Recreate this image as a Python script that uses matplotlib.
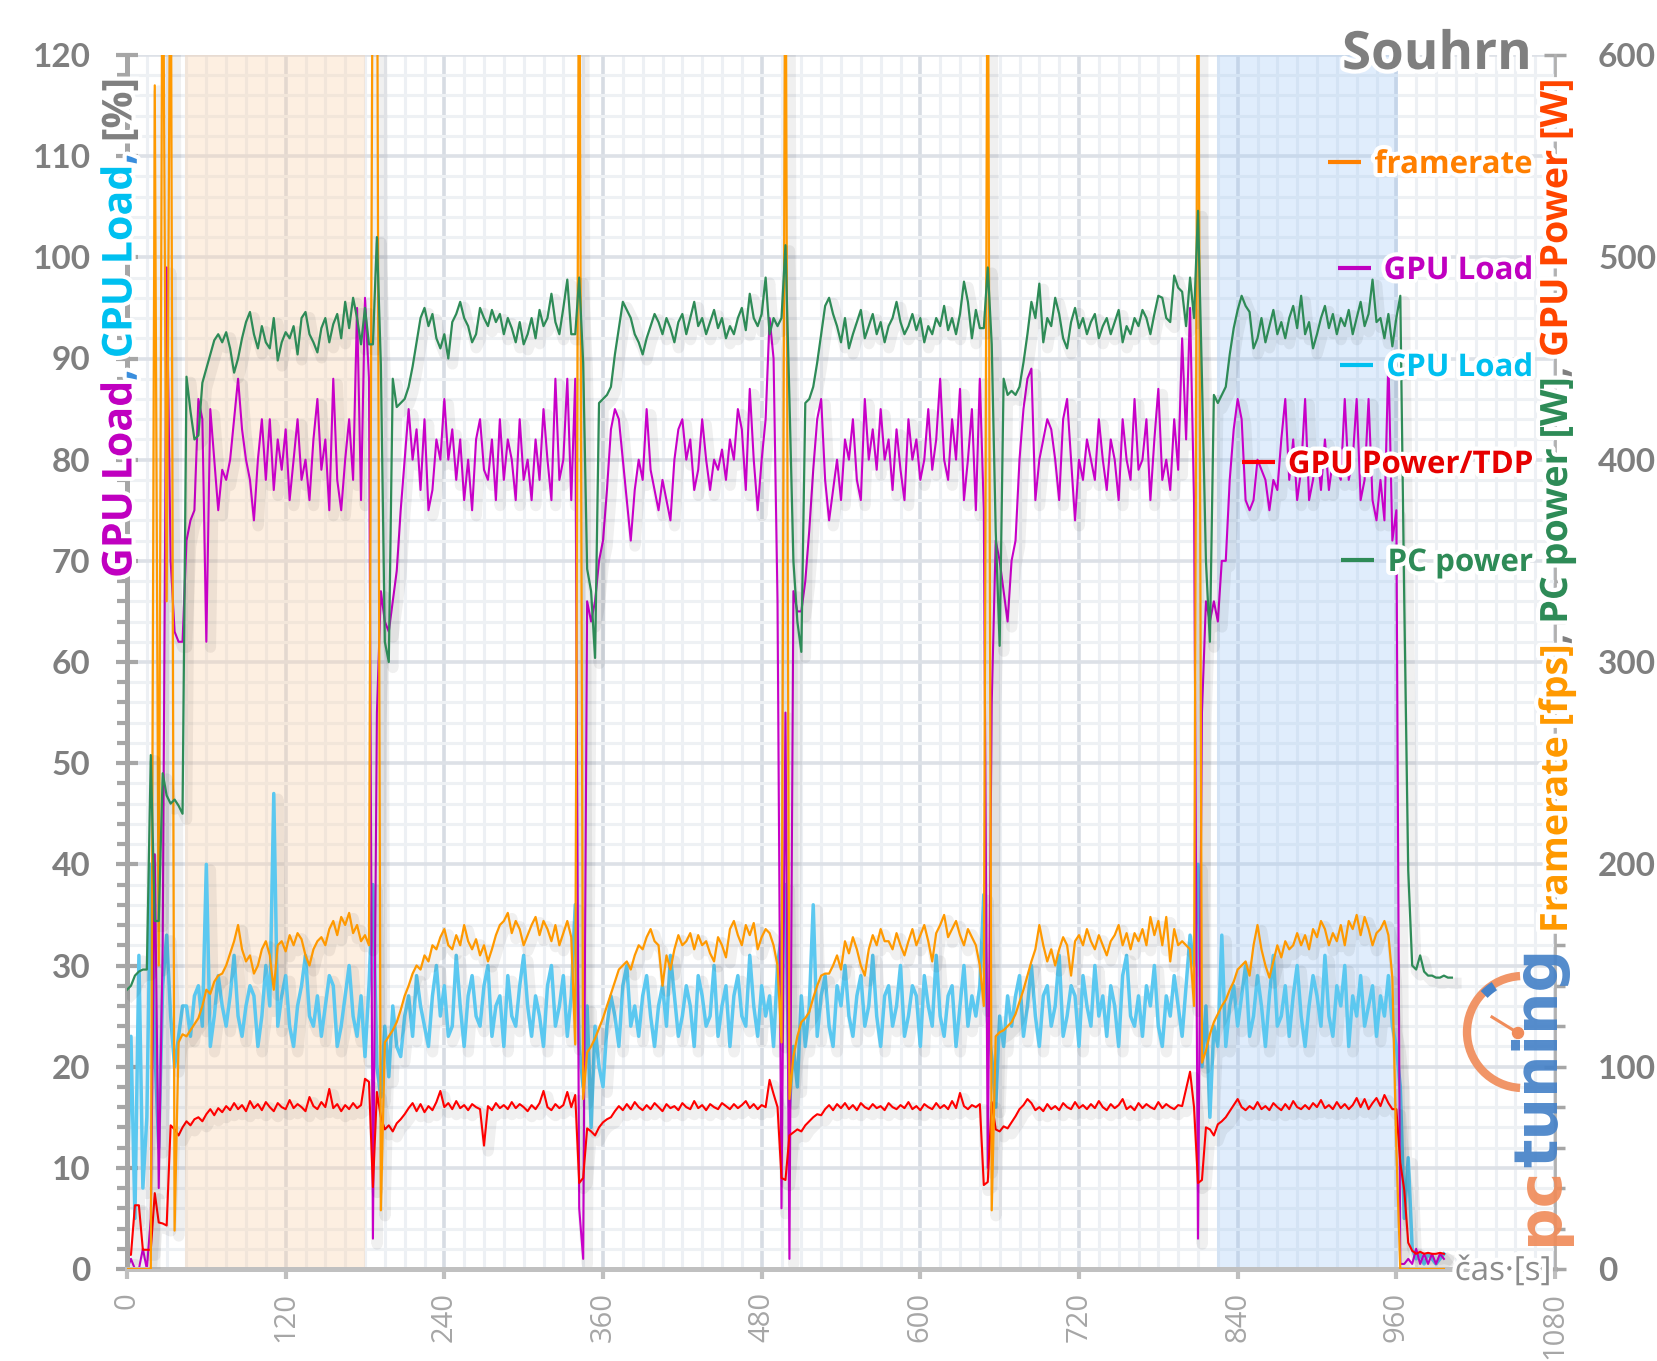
import numpy as np
import matplotlib
matplotlib.use("Agg")
import matplotlib.pyplot as plt
import matplotlib.patheffects as pe
from matplotlib.patches import Arc, Circle
from matplotlib.ticker import MultipleLocator

nan = np.nan
STEP = 3  # one sample every 3 s

# framerate [fps] (right axis)
framerate = [
    0, 0, 0, 0, 0, 0, 0, 585, 150, 700, 330, 700, 19, 112, 116,
    115, 118, 121, 124, 130, 138, 136, 142, 145, 146, 150, 156, 162, 170, 158, 152, 155, 146, 150, 158,
    162, 155, 138, 160, 162, 157, 165, 160, 166, 163, 155, 150, 158, 162, 164, 160, 168, 172, 165, 174,
    170, 176, 166, 170, 162, 165, 160,
    700, 700, 29, 112, 115, 118, 122,
    128, 135, 140, 146, 150, 148, 155, 152, 160, 158, 164, 168, 160, 158, 165, 160, 170, 162, 158, 163,
    155, 160, 152, 158, 165, 170, 172, 176, 166, 172, 168, 160, 165, 170, 174, 165, 172, 168, 162, 170,
    160, 166, 172, 164,
    111, 700, 84, 107, 110, 114, 119,
    124, 130, 136, 142, 148, 150, 152, 148, 155, 160, 158, 164, 168, 162, 160, 140, 155, 148, 158, 165,
    160, 162, 166, 158, 165, 160, 162, 156, 152, 164, 160, 154, 168, 172, 165, 160, 170, 165, 171, 158,
    164, 168, 166, 160, 150,
    112, 700, 84, 105, 115, 122, 124,
    127, 134, 140, 145, 146, 146, 150, 155, 148, 162, 156, 164, 158, 150, 145, 158, 165, 160, 168, 162,
    162, 158, 166, 160, 155, 162, 168, 160, 165, 170, 162, 152, 166, 170, 175, 164, 168, 172, 165, 160,
    168, 164, 160, 150,
    130, 700, 29, 115, 117, 118, 120,
    122, 126, 132, 138, 145, 152, 158, 170, 160, 152, 158, 150, 158, 164, 160, 145, 162, 165, 160, 168,
    162, 158, 165, 160, 155, 162, 165, 170, 160, 166, 158, 166, 162, 168, 160, 174, 165, 172, 160, 174,
    152, 168, 160, 162, 160, 158, 130,
    700, 102, 108, 116, 122, 126,
    130, 133, 138, 142, 148, 150, 152, 145, 160, 170, 158, 150, 144, 152, 160, 154, 162, 158, 160, 166,
    160, 165, 158, 168, 164, 172, 168, 160, 166, 162, 170, 160, 172, 168, 175, 165, 174, 168, 160, 166,
    168, 172, 165, 144,
    60, 0, 0, 0, 0, 0, 0, 0, 0, 0, 0, 0, 0, nan, nan,
]

# GPU load [%]
gpu_load = [
    0, 1, 0, 0, 2, 0, 5, 41, 8, 32, 99, 70, 63, 62, 62,
    72, 74, 75, 86, 84, 62, 85, 80, 75, 79, 78, 80, 84, 88, 83, 80, 78, 74, 80, 84,
    78, 84, 77, 82, 79, 83, 76, 80, 84, 78, 80, 76, 82, 86, 79, 82, 75, 88, 78, 75,
    80, 84, 78, 95, 76, 96, 88,
    3, 55, 67, 64, 63, 66, 69,
    75, 80, 85, 80, 83, 77, 84, 75, 77, 82, 80, 86, 80, 83, 78, 82, 76, 80, 75, 82,
    84, 79, 78, 82, 76, 84, 78, 82, 80, 76, 84, 78, 80, 76, 82, 78, 85, 80, 76, 88,
    78, 80, 88, 76,
    88, 6, 1, 66, 64, 66, 70,
    72, 77, 83, 85, 84, 80, 76, 72, 77, 80, 78, 85, 79, 77, 75, 78, 76, 74, 80, 83,
    84, 80, 82, 77, 79, 84, 80, 77, 80, 79, 81, 78, 82, 80, 85, 83, 77, 87, 80, 75,
    80, 84, 94, 90, 66,
    6, 55, 1, 67, 65, 65, 68,
    73, 79, 84, 86, 78, 74, 77, 80, 76, 82, 80, 84, 78, 76, 86, 80, 83, 79, 85, 80,
    82, 77, 83, 79, 76, 84, 80, 82, 78, 80, 85, 79, 82, 88, 80, 78, 84, 80, 87, 76,
    80, 85, 75, 88,
    75, 10, 56, 72, 70, 67, 64,
    70, 72, 80, 85, 88, 89, 76, 80, 82, 84, 83, 80, 76, 84, 86, 80, 74, 80, 78, 82,
    80, 78, 84, 80, 77, 82, 80, 76, 84, 80, 78, 86, 79, 80, 84, 76, 82, 87, 78, 80,
    77, 84, 79, 92, 82, 95, 76,
    3, 55, 66, 64, 66, 64,
    70, 70, 78, 83, 86, 84, 76, 75, 76, 80, 79, 78, 75, 78, 77, 82, 86, 78, 82, 76,
    79, 86, 76, 78, 81, 77, 82, 77, 80, 79, 78, 86, 78, 80, 86, 76, 78, 86, 76, 74,
    78, 74, 90, 72,
    75, 0.5, 0.5, 1, 0.5, 2, 0.5, 1.5, 0.5, 1.5, 0.5, 1.5, 1, nan, nan,
]

# CPU load [%]
cpu_load = [
    7, 23, 5, 31, 8, 15, 40, 22, 12, 28, 33, 25, 20, 23, 26,
    26, 23, 27, 28, 24, 40, 22, 25, 29, 26, 24, 27, 31, 25, 23, 26, 28, 27, 22, 25,
    30, 26, 47, 24, 27, 29, 24, 22, 26, 28, 31, 25, 24, 27, 23, 26, 29, 28, 22, 24,
    27, 30, 25, 23, 27, 21, 28,
    38, 20, 17, 24, 19, 26, 22,
    21, 25, 27, 23, 29, 26, 24, 22, 27, 30, 25, 28, 23, 24, 31, 26, 22, 27, 29, 25,
    24, 28, 30, 23, 26, 27, 22, 29, 25, 24, 28, 31, 26, 23, 27, 25, 22, 28, 30, 24,
    26, 29, 23, 27,
    36, 22, 18, 26, 14, 24, 20,
    18, 24, 27, 25, 22, 28, 30, 24, 26, 23, 27, 29, 25, 22, 26, 28, 24, 31, 27, 23,
    25, 28, 26, 22, 29, 27, 24, 25, 30, 23, 26, 28, 22, 27, 29, 25, 24, 31, 26, 23,
    28, 25, 27, 22, 30,
    33, 38, 16, 22, 18, 27, 22,
    26, 36, 23, 27, 29, 24, 22, 28, 26, 30, 25, 23, 27, 29, 24, 26, 31, 25, 22, 27,
    28, 24, 26, 30, 23, 25, 28, 27, 22, 29, 26, 24, 31, 25, 23, 27, 28, 22, 26, 30,
    24, 27, 25, 28,
    37, 24, 21, 16, 25, 22, 27,
    24, 27, 29, 23, 26, 30, 25, 22, 27, 28, 24, 26, 31, 23, 25, 28, 27, 22, 29, 26,
    24, 30, 25, 27, 23, 28, 26, 22, 29, 31, 25, 24, 27, 23, 28, 26, 30, 24, 22, 27,
    25, 29, 26, 23, 28, 33, 30,
    40, 20, 26, 15, 24, 22,
    33, 22, 26, 28, 24, 27, 30, 23, 25, 29, 26, 22, 27, 31, 24, 25, 28, 23, 27, 30,
    25, 22, 26, 29, 27, 24, 31, 25, 23, 28, 26, 30, 22, 27, 25, 29, 24, 26, 28, 23,
    27, 25, 29, 24,
    22, 18, 5, 11, 2, 1, 1.5, 0.5, 1.5, 1, 0.5, 1, 1.5, nan, nan,
]

# GPU power / TDP [%]
gpu_power = [
    1.4, 1.4, 6.3, 6.3, 1.9, 1.9, 1.9, 7.5, 4.6, 4.5, 4.3, 14.2, 13.8, 13.2, 14.0,
    14.6, 14.2, 14.8, 15.0, 14.6, 15.3, 15.8, 15.2, 15.9, 15.5, 16.1, 15.7, 16.4, 15.8, 16.2, 15.6, 16.6, 15.9, 16.3, 15.7,
    16.5, 16.0, 15.6, 16.4, 16.0, 15.8, 16.7, 15.9, 16.3, 16.0, 15.6, 17.0, 16.1, 15.8, 16.5, 16.0, 17.8, 15.9, 16.3, 15.6,
    16.2, 15.8, 16.4, 15.9, 16.2, 18.8, 18.5,
    8.1, 17.5, 15.0, 13.8, 14.2, 13.6, 14.4,
    14.8, 15.3, 15.9, 16.4, 15.6, 16.3, 15.5, 16.1, 15.7, 16.5, 17.6, 16.0, 16.4, 15.8, 16.6, 15.9, 16.2, 15.7, 16.3, 16.0,
    15.8, 12.2, 16.1, 15.7, 16.4, 15.9, 16.2, 15.8, 16.5, 15.9, 16.3, 16.0, 15.6, 16.2, 15.8, 16.4, 17.6, 16.0, 15.7, 16.3,
    15.9, 16.2, 17.5, 16.0,
    17.2, 8.5, 9.0, 13.9, 13.6, 13.2, 14.0,
    14.5, 14.8, 15.0, 15.6, 16.1, 15.7, 16.3, 15.8, 16.5, 16.0, 15.7, 16.2, 15.8, 16.4, 16.0, 15.6, 16.3, 15.9, 16.1, 15.7,
    16.4, 16.0, 15.8, 16.6, 15.9, 16.2, 15.7, 16.3, 16.0, 15.8, 16.4, 16.1, 15.8, 16.3, 15.9, 16.2, 16.6, 15.9, 16.3, 15.8,
    16.2, 16.0, 18.7, 17.3, 16.0,
    9.0, 8.8, 13.2, 13.5, 13.8, 13.6, 14.2,
    14.6, 15.0, 15.3, 15.2, 15.8, 16.2, 15.7, 16.3, 15.9, 16.4, 15.8, 16.2, 15.7, 16.4, 16.0, 15.8, 16.3, 15.9, 16.1, 15.7,
    16.4, 16.0, 15.8, 16.2, 15.9, 16.5, 15.8, 16.1, 15.7, 16.3, 16.0, 15.8, 16.4, 15.9, 16.2, 15.8, 16.6, 15.9, 17.4, 16.1,
    15.8, 16.2, 16.0, 16.3,
    8.3, 8.6, 16.5, 13.8, 13.6, 14.1, 13.9,
    14.5, 15.1, 15.8, 16.2, 16.8, 16.4, 15.7, 16.0, 15.6, 16.3, 15.8, 16.1, 15.7, 16.4, 16.0, 15.8, 16.5, 15.9, 16.2, 15.8,
    16.3, 15.9, 16.6, 16.0, 15.7, 16.3, 15.9, 16.2, 16.8, 15.8, 16.1, 15.7, 16.4, 15.9, 16.3, 16.0, 15.8, 16.5, 15.9, 16.3,
    16.0, 15.8, 16.2, 16.1, 17.8, 19.5, 16.0,
    8.5, 8.8, 14.0, 13.8, 13.2, 14.3,
    14.6, 15.0, 15.6, 16.2, 16.8, 16.0, 15.7, 16.1, 15.8, 16.5, 15.8, 16.1, 15.7, 16.4, 16.0, 15.7, 16.3, 15.8, 16.6, 16.0,
    15.8, 16.2, 15.8, 16.4, 16.0, 16.7, 15.9, 16.2, 15.8, 16.5, 15.9, 16.3, 15.8, 16.2, 16.9, 16.0, 16.8, 15.8, 16.4, 16.9,
    16.1, 17.2, 16.4, 15.8,
    15.8, 10.5, 7.8, 2.6, 1.8, 1.5, 1.7, 1.5, 1.6, 1.5, 1.5, 1.6, 1.5, nan, nan,
]

# PC power [W] (right axis)
pc_power = [
    138, 140, 145, 147, 148, 148, 254, 172, 172, 245, 234, 230, 232, 229, 225,
    441, 424, 410, 412, 438, 445, 452, 459, 462, 458, 463, 455, 443, 450, 460, 468, 473, 462, 455, 466,
    458, 455, 470, 449, 458, 463, 460, 466, 452, 470, 473, 462, 458, 453, 465, 470, 458, 467, 472, 460,
    478, 465, 480, 470, 457, 475, 457,
    457, 510, 447, 310, 300, 440, 426,
    428, 430, 436, 446, 458, 470, 475, 466, 472, 460, 455, 462, 450, 468, 472, 478, 470, 466, 458, 462,
    475, 470, 466, 474, 468, 472, 462, 470, 465, 458, 468, 457, 462, 470, 460, 474, 466, 470, 482, 468,
    462, 475, 489, 462,
    462, 490, 448, 346, 335, 302, 428,
    430, 432, 436, 452, 465, 478, 474, 470, 462, 458, 452, 460, 466, 472, 468, 462, 470, 465, 458, 468,
    472, 462, 470, 478, 466, 470, 462, 468, 474, 465, 470, 460, 466, 462, 470, 475, 464, 482, 470, 466,
    472, 490, 462, 470, 466,
    470, 506, 430, 350, 320, 305, 428,
    430, 436, 448, 462, 476, 480, 472, 466, 458, 470, 455, 462, 468, 474, 460, 466, 472, 462, 468, 458,
    466, 470, 478, 468, 462, 466, 472, 464, 470, 458, 466, 462, 470, 466, 476, 464, 470, 462, 472, 488,
    478, 460, 474, 465,
    465, 495, 457, 365, 308, 440, 432,
    434, 432, 436, 448, 462, 478, 470, 487, 458, 470, 466, 480, 472, 460, 455, 468, 475, 465, 470, 462,
    468, 472, 460, 466, 470, 462, 468, 474, 458, 466, 462, 470, 466, 474, 470, 462, 472, 481, 480, 470,
    468, 491, 485, 483, 466, 490, 470,
    523, 440, 350, 310, 432, 428,
    432, 436, 452, 465, 474, 481, 476, 473, 455, 460, 470, 458, 466, 474, 462, 468, 460, 470, 476, 465,
    481, 462, 468, 455, 462, 470, 476, 465, 472, 462, 470, 466, 474, 462, 470, 478, 466, 472, 489, 468,
    470, 460, 472, 456,
    470, 481, 330, 197, 150, 148, 155, 147, 145, 145, 144, 144, 145, 144, 144,
]

orange_span = (44, 180)
blue_span = (824, 961)
x_ticks = [0, 120, 240, 360, 480, 600, 720, 840, 960, 1080]

W, H = 1658, 1361
fig = plt.figure(figsize=(W / 100, H / 100), dpi=100)
ax = fig.add_axes([127 / W, 1 - 1269 / H, (1555 - 127) / W, (1269 - 55) / H])
ax2 = ax.twinx()


def tt(v):
    return np.arange(len(v)) * STEP


shadow = [pe.SimpleLineShadow(offset=(3, -4), shadow_color='k', alpha=0.06, linewidth=8), pe.Normal()]

ax.axvspan(*orange_span, color='#FAD3AE', alpha=0.36, lw=0, zorder=0.8)
ax.axvspan(*blue_span, color='#A1C9F6', alpha=0.32, lw=0, zorder=0.8)

ax.plot(tt(cpu_load), cpu_load, color='#5BC8F0', lw=2.5, path_effects=shadow, zorder=2)
ax.plot(tt(gpu_load), gpu_load, color='#C800C8', lw=1.5, path_effects=shadow, zorder=2.1)
ax.plot(tt(gpu_power), gpu_power, color='#FF0000', lw=1.5, path_effects=shadow, zorder=2.2)
ax2.plot(tt(framerate), framerate, color='#FF9900', lw=1.6, path_effects=shadow)
ax2.plot(tt(pc_power), pc_power, color='#2E8B57', lw=1.6, path_effects=shadow)

ax.set_xlim(0, 1080)
ax.set_ylim(0, 120)
ax2.set_ylim(0, 600)
ax.set_xticks(x_ticks)
ax.xaxis.set_minor_locator(MultipleLocator(15))
ax.set_yticks(range(0, 121, 10))
ax.yaxis.set_minor_locator(MultipleLocator(2))
ax2.set_yticks(range(0, 601, 100))
ax2.yaxis.set_minor_locator(MultipleLocator(20))

ax.set_axisbelow(True)
ax.grid(which='major', axis='x', color='#D7DCE3', lw=2.6)
ax.grid(which='minor', axis='x', color='#EDF0F4', lw=2.2)
ax.grid(which='major', axis='y', color='#DDE1E7', lw=2.6)
ax.grid(which='minor', axis='y', color='#EEF1F4', lw=2.2)

ax.tick_params(axis='x', which='major', direction='out', length=7, width=3, color='#BFBFBF',
               pad=9.5, labelsize=21, labelcolor='#A6A6A6', labelrotation=90)
ax.tick_params(axis='x', which='minor', length=0)
ax.tick_params(axis='y', which='major', direction='inout', length=16.5, width=3, color='#A6A6A6',
               pad=18, labelsize=24, labelcolor='#7F7F7F')
ax.tick_params(axis='y', which='minor', direction='out', length=7, width=3, color='#A6A6A6')
ax2.tick_params(axis='y', which='major', direction='inout', length=16, width=2.5, color='#A6A6A6',
                pad=23, labelsize=24, labelcolor='#7F7F7F')
ax2.tick_params(axis='y', which='minor', direction='out', length=7, width=2.5, color='#A6A6A6')

for lab in ax.get_yticklabels() + ax2.get_yticklabels():
    lab.set_fontfamily(['Lato', 'DejaVu Sans'])
    lab.set_fontweight('bold')
for lab in ax.get_xticklabels():
    lab.set_fontfamily(['Open Sans', 'DejaVu Sans'])

ax.spines['top'].set_visible(False)
ax.spines['right'].set_visible(False)
ax.spines['left'].set_color('#A6A6A6')
ax.spines['left'].set_linewidth(3.6)
ax.spines['bottom'].set_color('#C0C0C0')
ax.spines['bottom'].set_linewidth(3.6)
for s in ['top', 'left', 'bottom']:
    ax2.spines[s].set_visible(False)
ax2.spines['right'].set_color('#B0B0B0')
ax2.spines['right'].set_linewidth(2)

# overlay in pixel coordinates (origin top-left)
ov = fig.add_axes([0, 0, 1, 1], zorder=10)
ov.set_xlim(0, W)
ov.set_ylim(H, 0)
ov.axis('off')
ov.patch.set_visible(False)

glow = [pe.withStroke(linewidth=6, foreground='white')]
renderer = fig.canvas.get_renderer()
SANS = ['Open Sans', 'DejaVu Sans']


def vlabel(parts, xc, y_bottom, y_top, family, size, alpha=1.0, effects=None):
    def build(sz):
        arts = []
        pos = y_bottom
        gap = sz * 0.26 * 100 / 72
        for part in parts:
            if part is None:
                pos -= gap
                continue
            a = ov.text(xc, pos, part[0], rotation=90, ha='center', va='bottom', fontsize=sz,
                        family=family, weight='bold', color=part[1], alpha=alpha,
                        path_effects=effects)
            pos -= a.get_window_extent(renderer).height
            arts.append(a)
        return arts, y_bottom - pos
    arts, length = build(size)
    for a in arts:
        a.remove()
    build(size * (y_bottom - y_top) / length)


ov.text(1532, 69, 'Souhrn', ha='right', va='baseline', fontsize=38, family=SANS,
        weight='bold', color='#7F7F7F', path_effects=glow)

legend_rows = [
    ('framerate', '#FF7F00', '#FF8000', 162),
    ('GPU Load', '#C000C0', '#C000C0', 268),
    ('CPU Load', '#00C0F0', '#00C0F0', 365),
    ('GPU Power/TDP', '#E60000', '#FF0000', 462),
    ('PC power', '#2E8B57', '#2E8B57', 560),
]
for label, tc, lc, y in legend_rows:
    txt = ov.text(1533, y + 11, label, ha='right', va='baseline', fontsize=22.5, family=SANS,
                  weight='bold', color=tc, path_effects=glow)
    x0 = txt.get_window_extent(renderer).x0
    ov.plot([x0 - 46, x0 - 13], [y, y], color=lc, lw=3, solid_capstyle='butt')

vlabel([('GPU Load', '#C000C0'), (',', '#3A8EDD'), None, ('CPU Load', '#00C0F0'),
        (',', '#3A8EDD'), None, ('[%]', '#808080')], 121, 578, 78, SANS, 28, effects=glow)
vlabel([('Framerate [fps]', '#FF9900'), (',', '#808080'), None, ('PC power [W]', '#2E8B57'),
        (',', '#808080'), None, ('GPU Power [W]', '#FF4500')], 1557, 933, 77, SANS, 26,
       effects=glow)

ov.text(1552, 1280, 'čas·[s]', ha='right', va='baseline', fontsize=24, family=SANS,
        color='#8C8C8C', path_effects=glow)

# pctuning logo
vlabel([('pc', '#F08C5A'), ('tuning', '#4682C8')], 1541, 1245, 947, ['DejaVu Sans'], 48,
       alpha=0.92)
cx, cy, r = 1523, 1032, 56
ov.add_patch(Arc((cx, cy), 2 * r, 2 * r, theta1=93, theta2=267, color='#F08C5A', lw=6, alpha=0.92))
th = np.radians(np.linspace(122, 136, 10))
ov.plot(cx + (r - 2) * np.cos(th), cy - (r - 2) * np.sin(th), color='#4682C8', lw=7,
        solid_capstyle='butt')
ov.plot([cx - 5, cx - 31], [cy + 1, cy - 15], color='#F08C5A', lw=2.2)
ov.add_patch(Circle((cx - 5, cy + 1), 5.5, color='#F08C5A'))

fig.savefig('out.png', dpi=100)
